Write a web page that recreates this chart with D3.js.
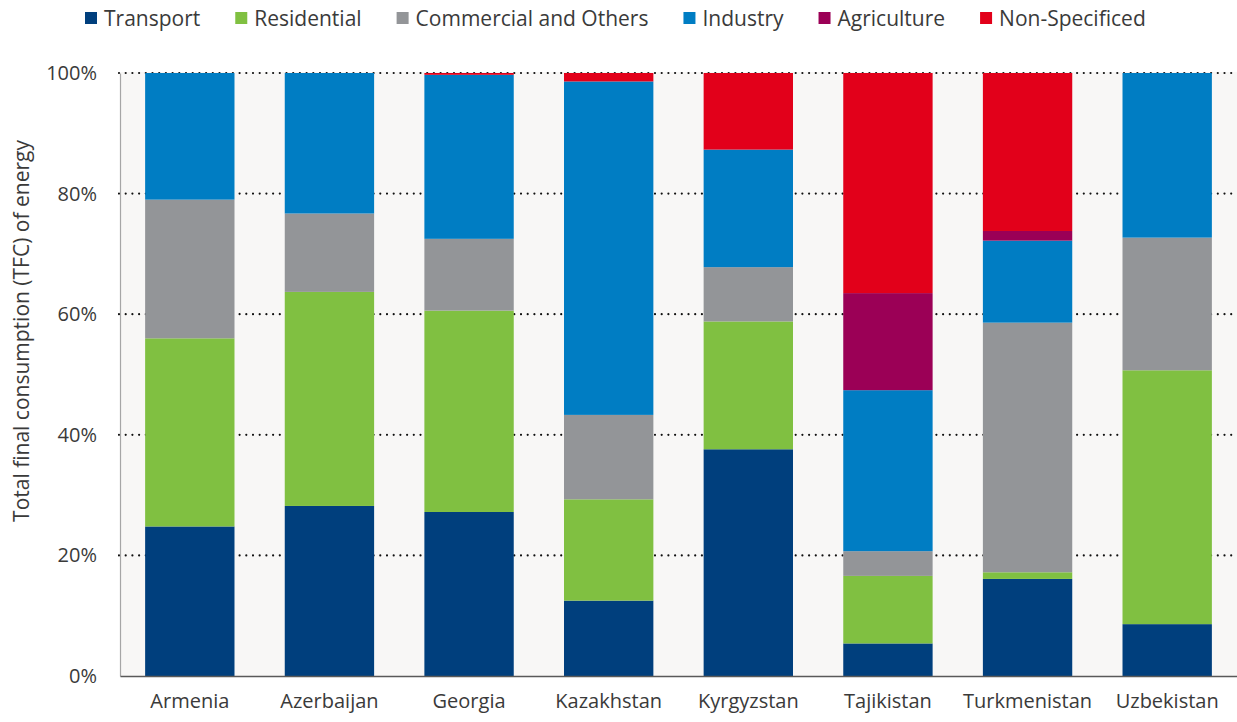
<!DOCTYPE html>
<html>
<head>
<meta charset="utf-8">
<script src="https://cdn.jsdelivr.net/npm/d3@7"></script>
<style>
  html, body { margin: 0; padding: 0; background: #ffffff; }
  svg { display: block; font-family: "Open Sans", "DejaVu Sans", sans-serif; }
</style>
</head>
<body>
<svg id="chart" width="1237" height="722"></svg>
<script>
// Share of total final consumption by sector, per country (%)
const countries = ["Armenia", "Azerbaijan", "Georgia", "Kazakhstan", "Kyrgyzstan", "Tajikistan", "Turkmenistan", "Uzbekistan"];
const sectors = ["Transport", "Residential", "Commercial and Others", "Industry", "Agriculture", "Non-Specificed"];

const transport   = [24.8, 28.2, 27.2, 12.5, 37.6,  5.4, 16.1,  8.6];
const residential = [31.2, 35.5, 33.4, 16.8, 21.2, 11.2,  1.1, 42.1];
const commercial  = [23.0, 13.0, 11.9, 14.0,  9.0,  4.1, 41.4, 22.0];
const industry    = [21.0, 23.3, 27.2, 55.3, 19.5, 26.7, 13.6, 27.3];
const agriculture = [ 0.0,  0.0,  0.0,  0.0,  0.0, 16.1,  1.6,  0.0];
const nonSpecified= [ 0.0,  0.0,  0.3,  1.4, 12.7, 36.5, 26.2,  0.0];

const yTicks = [0, 20, 40, 60, 80, 100];
const sectorColors = ["#003f7d", "#80c041", "#939598", "#007dc3", "#9b0056", "#e2001a"];

const seriesValues = [transport, residential, commercial, industry, agriculture, nonSpecified];
const rows = countries.map((c, i) => {
  const r = { country: c };
  sectors.forEach((s, j) => { r[s] = seriesValues[j][i]; });
  return r;
});

const svg = d3.select("#chart");
const margin = { left: 120, right: 0, top: 73, bottom: 46 };
const W = 1237, H = 722;

const x = d3.scaleBand()
  .domain(countries)
  .range([margin.left, W - margin.right])
  .paddingInner(0.36)
  .paddingOuter(0.18);

const y = d3.scaleLinear()
  .domain([0, 100])
  .range([H - margin.bottom, margin.top]);

const color = d3.scaleOrdinal().domain(sectors).range(sectorColors);

// plot background
svg.append("rect")
  .attr("x", margin.left)
  .attr("y", y(100) - 1)
  .attr("width", W - margin.right - margin.left)
  .attr("height", y(0) - y(100) + 1)
  .attr("fill", "#f8f7f6");

// dotted gridlines
svg.append("g")
  .selectAll("line")
  .data(yTicks.filter(d => d > 0))
  .join("line")
  .attr("x1", margin.left - 1)
  .attr("x2", W - margin.right)
  .attr("y1", d => y(d))
  .attr("y2", d => y(d))
  .attr("stroke", "#111")
  .attr("stroke-width", 2.2)
  .attr("stroke-linecap", "round")
  .attr("stroke-dasharray", "0,6.7");

// stacked bars
const stacked = d3.stack().keys(sectors)(rows);
svg.append("g")
  .selectAll("g")
  .data(stacked)
  .join("g")
  .attr("fill", d => color(d.key))
  .selectAll("rect")
  .data(d => d)
  .join("rect")
  .attr("x", d => x(d.data.country))
  .attr("width", x.bandwidth())
  .attr("y", d => y(d[1]))
  .attr("height", d => Math.max(0, y(d[0]) - y(d[1])));

// y axis
const yAxis = svg.append("g")
  .attr("transform", `translate(${margin.left},0)`)
  .call(d3.axisLeft(y).tickValues(yTicks).tickFormat(d => d + "%").tickSize(0).tickPadding(23));
yAxis.select(".domain").attr("stroke", "#a6a6a6").attr("stroke-width", 1.2);
yAxis.selectAll("text")
  .attr("font-size", 20)
  .attr("fill", "#3a3a3a")
  .attr("font-family", "'Open Sans', sans-serif");

// x axis
const xAxis = svg.append("g")
  .attr("transform", `translate(0,${y(0)})`)
  .call(d3.axisBottom(x).tickSize(0).tickPadding(18));
xAxis.select(".domain").attr("stroke", "#595959").attr("stroke-width", 1.6);
xAxis.selectAll("text")
  .attr("font-size", 20)
  .attr("fill", "#3a3a3a")
  .attr("font-family", "'Open Sans', sans-serif");

// y axis title
svg.append("text")
  .attr("transform", `translate(29,331) rotate(-90)`)
  .attr("text-anchor", "middle")
  .attr("font-size", 21)
  .attr("fill", "#3a3a3a")
  .text("Total final consumption (TFC) of energy");

// legend
const legend = svg.append("g").attr("transform", "translate(0,18)");
let lx = 85;
sectors.forEach((s, i) => {
  const g = legend.append("g").attr("transform", `translate(${lx},0)`);
  g.append("rect")
    .attr("x", 0).attr("y", -6)
    .attr("width", 12).attr("height", 12)
    .attr("fill", color(s));
  const t = g.append("text")
    .attr("x", 19).attr("y", 7.5)
    .attr("font-size", 21)
    .attr("fill", "#3a3a3a")
    .text(s);
  lx += 19 + t.node().getComputedTextLength() + 35;
});
</script>
</body>
</html>
